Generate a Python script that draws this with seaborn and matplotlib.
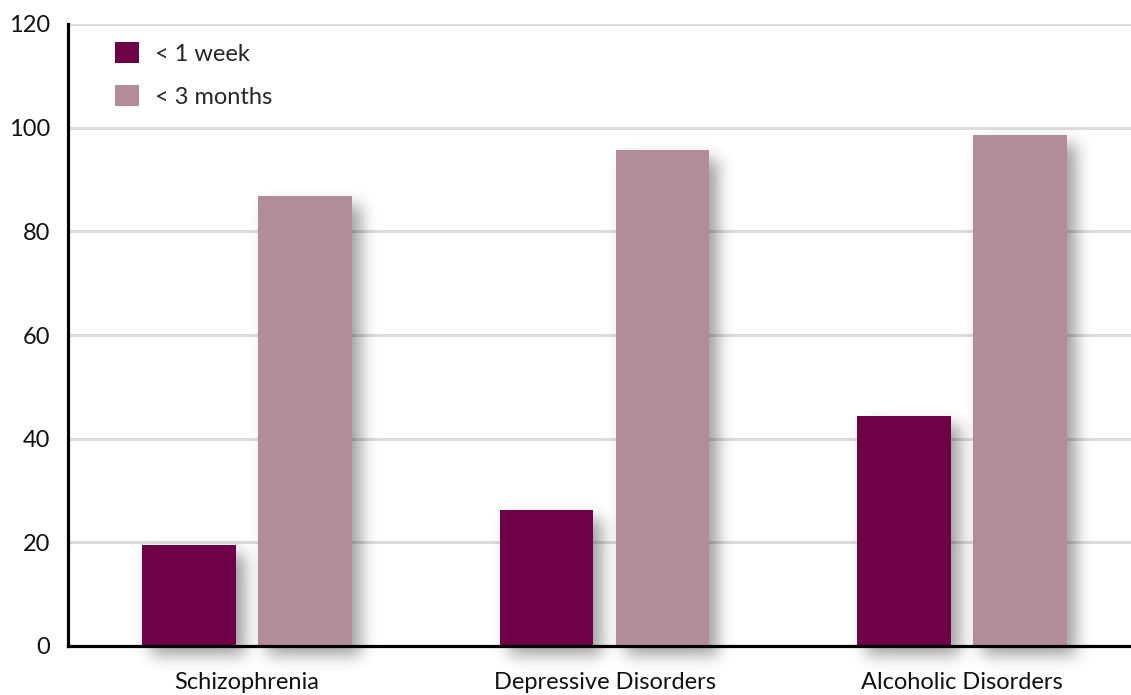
import numpy as np
import pandas as pd
import matplotlib
matplotlib.use("Agg")
import matplotlib.pyplot as plt
import seaborn as sns
from matplotlib.patches import Rectangle

categories = ["Schizophrenia", "Depressive Disorders", "Alcoholic Disorders"]
series_names = ["< 1 week", "< 3 months"]
week_values = [19.5, 26.2, 44.4]
months_values = [86.8, 95.7, 98.6]
yticks = [0, 20, 40, 60, 80, 100, 120]
colors = ["#6d0346", "#b38c99"]

df = pd.DataFrame({
    "category": categories * 2,
    "period": [series_names[0]] * 3 + [series_names[1]] * 3,
    "value": week_values + months_values,
})

sns.set_theme(style="white")
plt.rcParams["font.family"] = ["Lato", "DejaVu Sans"]

fig = plt.figure(figsize=(11.31, 6.95), dpi=100)
ax = fig.add_axes([68 / 1131, 49 / 695, 1073 / 1131, 622 / 695])

sns.barplot(data=df, x="category", y="value", hue="period",
            palette=colors, width=0.648, gap=0.19, saturation=1,
            edgecolor="none", linewidth=0, ax=ax, zorder=3)


def gaussian_kernel(sigma):
    r = int(3 * sigma)
    x = np.arange(-r, r + 1)
    k = np.exp(-0.5 * (x / sigma) ** 2)
    return k / k.sum()


class DropShadow:
    """Agg filter: blurred, offset, grey copy of the artist."""

    def __init__(self, sigma=8, dx=9, dy=9, alpha=0.38):
        self.sigma, self.dx, self.dy, self.alpha = sigma, dx, dy, alpha

    def __call__(self, im, dpi):
        pad = int(3 * self.sigma) + max(self.dx, self.dy) + 2
        a = np.pad(im[:, :, 3], pad)
        k = gaussian_kernel(self.sigma)
        a = np.apply_along_axis(lambda v: np.convolve(v, k, mode="same"), 0, a)
        a = np.apply_along_axis(lambda v: np.convolve(v, k, mode="same"), 1, a)
        a = np.roll(a, self.dx, axis=1)
        a = np.roll(a, self.dy, axis=0)
        out = np.zeros(a.shape + (4,), dtype=float)
        out[..., 3] = np.clip(a * self.alpha, 0, 1)
        return out, -pad, -pad


shadow = DropShadow()
for bar in list(ax.patches):
    if bar.get_height() <= 0:
        continue
    sh = Rectangle((bar.get_x(), bar.get_y()), bar.get_width(), bar.get_height(),
                   facecolor="black", edgecolor="none", zorder=2,
                   clip_on=False)
    sh.set_agg_filter(shadow)
    ax.add_patch(sh)

ax.set_ylim(0, 120)
ax.set_xlim(-0.5, 2.5)
ax.set_yticks(yticks)
ax.set_xlabel("")
ax.set_ylabel("")

ax.set_axisbelow(True)
ax.yaxis.grid(True, color="#dcdcdc", linewidth=2.2)
ax.xaxis.grid(False)

for side in ["top", "right"]:
    ax.spines[side].set_visible(False)
for side in ["left", "bottom"]:
    ax.spines[side].set_color("black")
    ax.spines[side].set_linewidth(2.3)
    ax.spines[side].set_zorder(4)

ax.tick_params(axis="y", length=0, pad=13, labelsize=17, labelcolor="#111111")
ax.tick_params(axis="x", which="major", length=0, pad=19, labelsize=17,
               labelcolor="#111111")
ax.set_xticks([0.5, 1.5], minor=True)
ax.tick_params(axis="x", which="minor", direction="in", length=11,
               width=2.2, color="#dcdcdc")

leg_handles = [Rectangle((0, 0), 1, 1, facecolor=c, edgecolor="none") for c in colors]
ax.legend(leg_handles, series_names, loc="upper left",
          bbox_to_anchor=(47 / 1073, 1 - 18 / 622), frameon=False,
          fontsize=17, handlelength=1.02, handleheight=1.02,
          handletextpad=0.68, labelspacing=0.85, borderpad=0,
          borderaxespad=0)

fig.savefig("out.png", dpi=100, facecolor="white")
